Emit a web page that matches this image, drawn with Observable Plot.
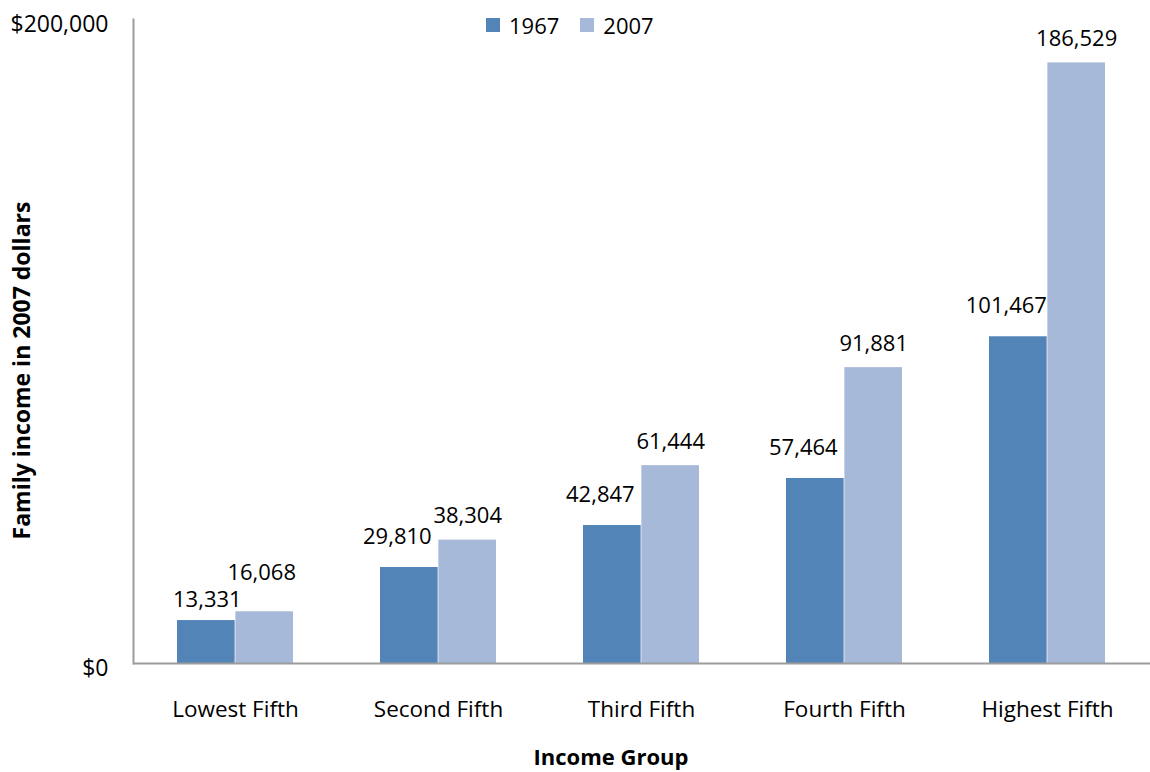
<!DOCTYPE html>
<html><head><meta charset="utf-8">
<script src="https://cdn.jsdelivr.net/npm/d3@7"></script>
<script src="https://cdn.jsdelivr.net/npm/@observablehq/plot@0.6"></script>
<style>
body{margin:0;background:#fff;font-family:"Open Sans",sans-serif;}
#wrap{position:relative;width:1150px;height:772px;}
#legend{position:absolute;top:10px;left:486px;display:flex;align-items:center;font-size:22px;line-height:30px;color:#000;}
#legend .sw{width:14px;height:14px;display:inline-block;margin-right:9px;}
#legend .item{display:flex;align-items:center;margin-right:21px;}
</style></head><body><div id="wrap"></div>
<script>
const groups = ["Lowest Fifth","Second Fifth","Third Fifth","Fourth Fifth","Highest Fifth"];
const years = ["1967","2007"];
const income1967 = [13331,29810,42847,57464,101467];
const income2007 = [16068,38304,61444,91881,186529];
const yTicks = [0,200000];
const colors = ["#5384B8","#A6B9D9"];

const W = 1150, H = 772, ML = 133, MR = 0, MT = 19, MB = 109;
const yMax = 200000;
const pxPerUnit = (H - MT - MB) / yMax;

// label placement rule: when the two bars of a group are nearly level,
// raise the 2007 label and keep the 1967 label centred over its bar
const rows = [];
groups.forEach((g,i)=>{
  const crowded = (income2007[i]-income1967[i])*pxPerUnit < 20;
  rows.push({group:g, year:years[0], value:income1967[i], crowded});
  rows.push({group:g, year:years[1], value:income2007[i], crowded});
});

const pad = 0.4263;
const step = (W-ML-MR)/groups.length;
const bw = step*(1-pad);
const fmt = d3.format(",");
const axisColor = "#9c9c9c";
const lbl = {x:"group", y:"value", text: d=>fmt(d.value), fontSize: 22, fill: "#000"};

const chart = Plot.plot({
  width: W, height: H,
  marginLeft: ML, marginRight: MR, marginTop: MT, marginBottom: MB,
  style: {fontFamily: "'Open Sans', sans-serif", fontSize: "22px", background: "transparent", overflow: "visible"},
  x: {type: "band", domain: groups, paddingInner: pad, paddingOuter: pad/2, axis: null},
  y: {domain: [0, yMax], axis: null},
  color: {domain: years, range: colors},
  marks: [
    Plot.barY(rows, {filter: d=>d.year===years[0], x:"group", y:"value", fill:"year", insetRight: bw/2}),
    Plot.barY(rows, {filter: d=>d.year===years[1], x:"group", y:"value", fill:"year", insetLeft: bw/2}),
    Plot.ruleY([0], {stroke: axisColor, strokeWidth: 2}),
    Plot.frame({anchor: "left", stroke: axisColor, strokeWidth: 2}),
    Plot.axisY({ticks: yTicks, tickFormat: d=>"$"+fmt(d), tickSize: 0, tickPadding: 25, fontSize: 23, dy: 5, label: null}),
    Plot.axisX({tickSize: 0, tickPadding: 38, fontSize: 22.5, label: null}),
    Plot.text(rows, {...lbl, filter: d=>d.year===years[0] && !d.crowded, dx: -bw/4-12, dy: -31}),
    Plot.text(rows, {...lbl, filter: d=>d.year===years[0] && d.crowded, dx: -bw/4+1, dy: -21}),
    Plot.text(rows, {...lbl, filter: d=>d.year===years[1] && !d.crowded, dx: bw/4, dy: -24}),
    Plot.text(rows, {...lbl, filter: d=>d.year===years[1] && d.crowded, dx: bw/4-3, dy: -39}),
    Plot.text(["Income Group"], {text: d=>d, frameAnchor: "bottom", lineAnchor: "middle", textAnchor: "middle", dx: -31, dy: 94, fontWeight: "bold", fontSize: 22, fill: "#000"}),
    Plot.text(["Family income in 2007 dollars"], {text: d=>d, frameAnchor: "left", rotate: -90, textAnchor: "middle", lineAnchor: "middle", dx: -111, dy: 29, fontWeight: "bold", fontSize: 23, fill: "#000"})
  ]
});
const wrap = document.getElementById("wrap");
wrap.appendChild(chart);
const legend = document.createElement("div");
legend.id = "legend";
years.forEach((y,i)=>{
  const it = document.createElement("span"); it.className = "item";
  const sw = document.createElement("span"); sw.className = "sw"; sw.style.background = colors[i];
  it.appendChild(sw); it.appendChild(document.createTextNode(y));
  legend.appendChild(it);
});
wrap.appendChild(legend);
</script></body></html>
